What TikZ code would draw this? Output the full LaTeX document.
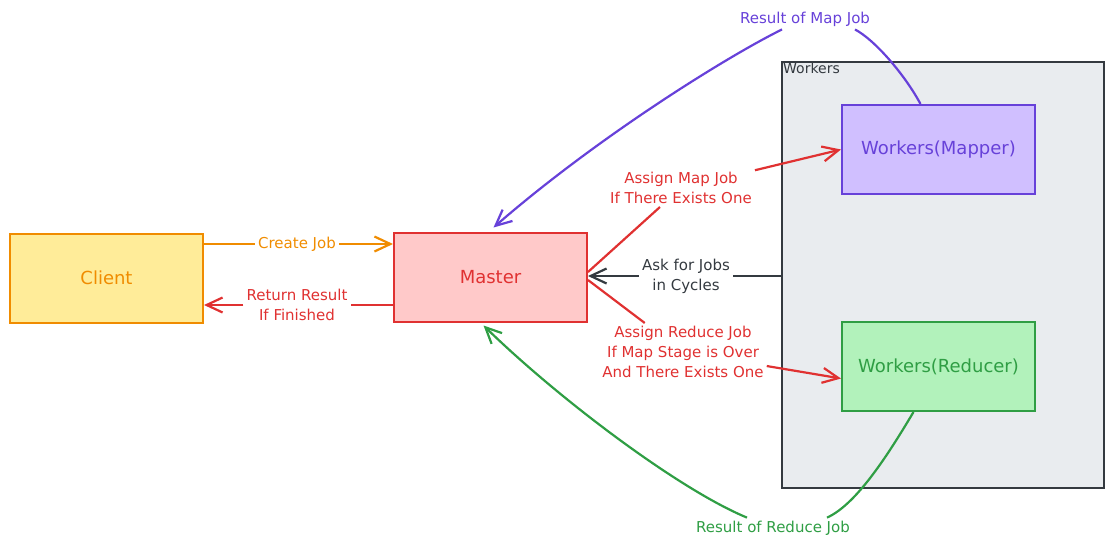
\documentclass[tikz,border=0pt]{standalone}
\usepackage{fontspec}
\setmainfont{DejaVu Sans}
\usetikzlibrary{arrows.meta}
\definecolor{clientline}{HTML}{F08C00}
\definecolor{clientfill}{HTML}{FFEC99}
\definecolor{masterline}{HTML}{E03131}
\definecolor{masterfill}{HTML}{FFC9C9}
\definecolor{mapline}{HTML}{6741D9}
\definecolor{mapfill}{HTML}{D0BFFF}
\definecolor{reduceline}{HTML}{2F9E44}
\definecolor{reducefill}{HTML}{B2F2BB}
\definecolor{workline}{HTML}{343A40}
\definecolor{workfill}{HTML}{E9ECEF}
\begin{document}
\begin{tikzpicture}[x=1pt,y=-1pt,
    box/.style={draw,line width=2pt,minimum width=193pt,minimum height=89pt,font=\fontsize{18}{21}\selectfont},
    lbl/.style={align=center,inner sep=3pt,font=\fontsize{15}{20}\selectfont},
    conn/.style={line width=2.2pt,-{Straight Barb[length=16pt,width=15pt]}}]
  \useasboundingbox (0,0) rectangle (1114,550);

  \node[draw=workline,fill=workfill,line width=2pt,minimum width=322pt,minimum height=426pt] (workers) at (943,275) {};
  \node[anchor=north west,text=workline,inner sep=2pt,font=\fontsize{14}{16}\selectfont] (workerslbl) at (workers.north west) {Workers};

  \node[box,draw=clientline,fill=clientfill,text=clientline] (client) at (106.5,278) {Client};
  \node[box,draw=masterline,fill=masterfill,text=masterline] (master) at (490.5,277) {Master};
  \node[box,draw=mapline,fill=mapfill,text=mapline] (mapper) at (938.5,149.5) {Workers(Mapper)};
  \node[box,draw=reduceline,fill=reducefill,text=reduceline] (reducer) at (938.5,366.5) {Workers(Reducer)};

  \node[lbl,text=clientline] (create) at (297,244) {Create Job};
  \draw[conn,clientline] (client.east |- create) -- (create) -- (master.west |- create);

  \node[lbl,text=masterline] (return) at (297,305) {Return Result\\If Finished};
  \draw[conn,masterline] (master.west |- return) -- (return) -- (client.east |- return);

  \node[lbl,text=workline] (ask) at (686,276) {Ask for Jobs\\in Cycles};
  \draw[conn,workline] (workers.west |- ask) -- (ask) -- (master.east |- ask);

  \node[lbl,text=masterline] (mapjob) at (681,188) {Assign Map Job\\If There Exists One};
  \draw[conn,masterline] ([yshift=5pt]master.east) -- (mapjob) -- (mapper.west);

  \node[lbl,text=masterline] (reducejob) at (683,352) {Assign Reduce Job\\If Map Stage is Over\\And There Exists One};
  \draw[conn,masterline] ([yshift=-3pt]master.east) -- (reducejob) -- ([yshift=-12pt]reducer.west);

  \node[lbl,text=mapline] (mapres) at (805,19) {Result of Map Job};
  \draw[conn,mapline] ([xshift=-18pt]mapper.north) .. controls (905,75) and (875,40) .. ([xshift=50pt]mapres.south)
    ([xshift=-23pt]mapres.south) .. controls (730,55) and (600,135) .. ([shift={(3pt,4pt)}]master.north);

  \node[lbl,text=reduceline] (reduceres) at (773,528) {Result of Reduce Job};
  \draw[conn,reduceline] ([xshift=-25pt]reducer.south) .. controls (885,460) and (855,505) .. ([xshift=54pt]reduceres.north)
    ([xshift=-26pt]reduceres.north) .. controls (680,490) and (560,400) .. ([shift={(-7pt,-3pt)}]master.south);
\end{tikzpicture}
\end{document}
